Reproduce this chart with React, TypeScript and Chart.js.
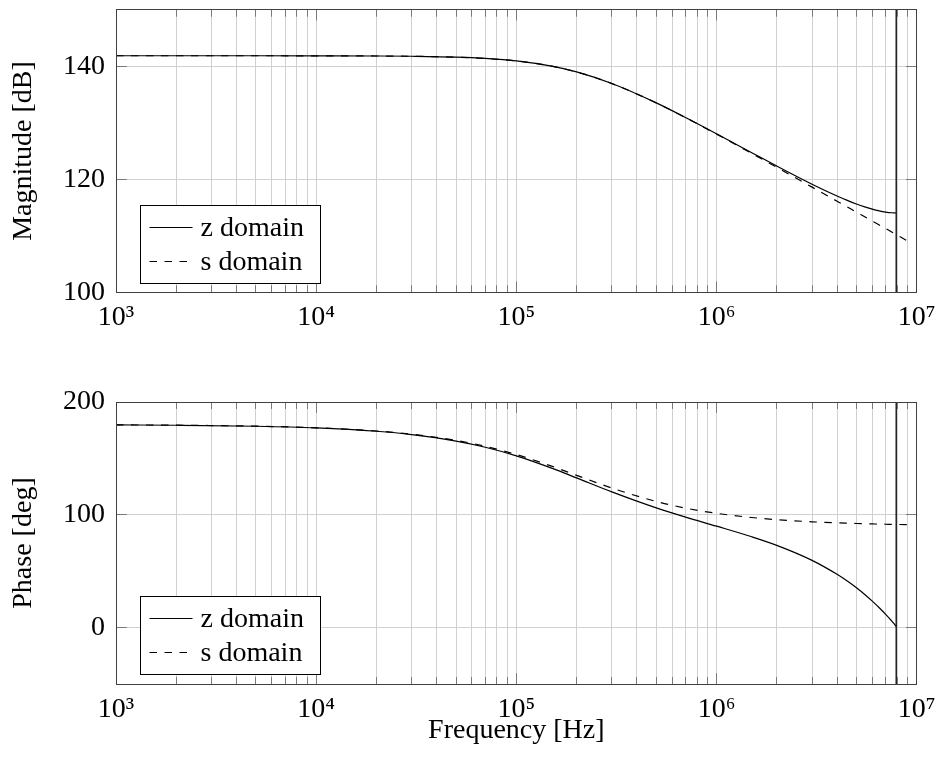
import React, { useEffect, useRef } from 'react';
import { Chart, registerables } from 'chart.js';

Chart.register(...registerables);

const FONT = "'Liberation Serif', 'DejaVu Serif', serif";

// ---- data ----
const FREQ_S = [1e3, 2e3, 5e3, 1e4, 2e4, 3e4, 5e4, 7e4, 1e5, 1.5e5, 2e5, 3e5, 5e5, 7e5, 1e6, 1.5e6, 2e6, 3e6, 4e6, 4.5e6, 5e6, 5.5e6, 6e6, 6.5e6, 7e6, 7.5e6, 8e6, 9e6, 9.4e6];
const MAG_S = [141.85, 141.85, 141.85, 141.84, 141.81, 141.76, 141.61, 141.38, 140.94, 140.01, 138.99, 136.93, 133.51, 130.91, 127.99, 124.57, 122.11, 118.61, 116.12, 115.1, 114.18, 113.36, 112.6, 111.91, 111.27, 110.67, 110.11, 109.08, 108.71];
const PHASE_S = [179.71, 179.43, 178.57, 177.14, 174.29, 171.47, 165.96, 160.71, 153.43, 143.13, 135.0, 123.69, 111.8, 105.95, 101.31, 97.59, 95.71, 93.81, 92.86, 92.55, 92.29, 92.08, 91.91, 91.76, 91.64, 91.53, 91.43, 91.27, 91.22];

const FREQ_Z = [1e3, 2e3, 5e3, 1e4, 2e4, 3e4, 5e4, 7e4, 1e5, 1.5e5, 2e5, 3e5, 5e5, 7e5, 1e6, 1.5e6, 2e6, 3e6, 4e6, 4.5e6, 5e6, 5.5e6, 6e6, 6.5e6, 7e6, 7.5e6, 7.7e6, 7.9e6];
const MAG_Z = [141.85, 141.85, 141.85, 141.84, 141.81, 141.76, 141.61, 141.38, 140.94, 140.01, 138.99, 136.94, 133.52, 130.93, 128.05, 124.7, 122.33, 119.12, 117.03, 116.26, 115.63, 115.12, 114.71, 114.41, 114.2, 114.07, 114.04, 114.03];
const PHASE_Z = [179.7, 179.4, 178.51, 177.02, 174.06, 171.13, 165.39, 159.92, 152.3, 141.42, 132.72, 120.27, 106.1, 97.96, 89.91, 80.5, 72.91, 59.62, 47.25, 41.22, 35.26, 29.33, 23.43, 17.56, 11.7, 5.85, 3.51, 1.0];

const NYQUIST = 7.9e6;

const X_MIN = 1e3;
const X_MAX = 1e7;
const MAG_MIN = 100;
const MAG_MAX = 150;
const MAG_TICKS = [100, 120, 140];
const PHASE_MIN = -50;
const PHASE_MAX = 200;
const PHASE_TICKS = [0, 100, 200];

const LABEL_Z = 'z domain';
const LABEL_S = 's domain';
const MAG_TITLE = 'Magnitude [dB]';
const PHASE_TITLE = 'Phase [deg]';
const X_TITLE = 'Frequency [Hz]';

const SUP: Record<string, string> = { '0': '⁰', '1': '¹', '2': '²', '3': '³', '4': '⁴', '5': '⁵', '6': '⁶', '7': '⁷', '8': '⁸', '9': '⁹' };

function isDecade(v: number) {
  const l = Math.log10(v);
  return Math.abs(l - Math.round(l)) < 1e-9;
}

function gridValues(): number[] {
  const out: number[] = [];
  const e0 = Math.round(Math.log10(X_MIN));
  const e1 = Math.round(Math.log10(X_MAX));
  for (let e = e0; e < e1; e++) for (let m = 1; m < 10; m++) out.push(m * Math.pow(10, e));
  out.push(X_MAX);
  return out;
}

function decadeLabel(v: number) {
  const e = String(Math.round(Math.log10(v)));
  return '10' + e.split('').map((c) => SUP[c]).join('');
}

function alignPx(p: number) {
  return Math.round(p - 0.5) + 0.5;
}

type Cfg = {
  yMin: number; yMax: number; yTicks: number[]; yTitle: string; xTitle?: string;
  padTop: number; xHeight: number; yVals: { z: number[]; s: number[] };
};

function buildChart(canvas: HTMLCanvasElement, cfg: Cfg) {
  const gv = gridValues();
  const titleFont = { family: FONT, size: 28 };

  const framePlugin = {
    id: 'frame',
    beforeDatasetsDraw(chart: any) {
      const { ctx, chartArea: a, scales } = chart;
      ctx.save();
      ctx.strokeStyle = '#7a7a7a';
      ctx.lineWidth = 1;
      ctx.beginPath();
      for (const v of gv) {
        const px = alignPx(scales.x.getPixelForValue(v));
        const len = isDecade(v) ? 10.8 : 7;
        ctx.moveTo(px, a.bottom);
        ctx.lineTo(px, a.bottom - len);
        ctx.moveTo(px, a.top);
        ctx.lineTo(px, a.top + len);
      }
      for (const v of cfg.yTicks) {
        const py = alignPx(scales.y.getPixelForValue(v));
        ctx.moveTo(a.left, py);
        ctx.lineTo(a.left + 10.8, py);
        ctx.moveTo(a.right, py);
        ctx.lineTo(a.right - 10.8, py);
      }
      ctx.stroke();
      ctx.restore();
    },
    afterDatasetsDraw(chart: any) {
      const { ctx, chartArea: a } = chart;
      ctx.save();
      // frame
      const l = alignPx(a.left), r = alignPx(a.right), t = alignPx(a.top), b = alignPx(a.bottom);
      ctx.strokeStyle = '#404040';
      ctx.lineWidth = 1;
      ctx.strokeRect(l, t, r - l, b - t);
      // legend
      const w = 180, h = 78;
      const lx = alignPx(a.left + 24);
      const ly = alignPx(a.bottom - 9.3) - h;
      ctx.fillStyle = '#fff';
      ctx.fillRect(lx, ly, w, h);
      ctx.strokeStyle = '#000';
      ctx.strokeRect(lx, ly, w, h);
      const items = chart.data.datasets.filter((d: any) => d.label);
      items.forEach((d: any, i: number) => {
        const y = ly + 22 + i * 34;
        ctx.setLineDash(d.borderDash || []);
        ctx.strokeStyle = d.borderColor;
        ctx.lineWidth = d.borderWidth;
        ctx.beginPath();
        ctx.moveTo(lx + 9, y);
        ctx.lineTo(lx + 52, y);
        ctx.stroke();
        ctx.setLineDash([]);
        ctx.fillStyle = '#000';
        ctx.font = `28px ${FONT}`;
        ctx.textAlign = 'left';
        ctx.textBaseline = 'alphabetic';
        ctx.fillText(d.label, lx + 60, y + 8);
      });
      ctx.restore();
    },
  };

  const lineBase = { borderColor: '#000', borderWidth: 1.2, pointRadius: 0, fill: false };

  return new Chart(canvas, {
    type: 'line',
    data: {
      datasets: [
        { ...lineBase, label: LABEL_Z, data: FREQ_Z.map((f, i) => ({ x: f, y: cfg.yVals.z[i] })), cubicInterpolationMode: 'monotone' },
        { ...lineBase, label: LABEL_S, borderDash: [7.5, 7.5], data: FREQ_S.map((f, i) => ({ x: f, y: cfg.yVals.s[i] })), cubicInterpolationMode: 'monotone' },
        { ...lineBase, borderWidth: 1.3, data: [{ x: NYQUIST, y: cfg.yMin }, { x: NYQUIST, y: cfg.yMax }] },
      ],
    } as any,
    options: {
      responsive: false,
      animation: false,
      devicePixelRatio: 1,
      layout: { padding: { top: cfg.padTop, right: 21.3, bottom: 0, left: 0 } },
      plugins: { legend: { display: false }, tooltip: { enabled: false } },
      scales: {
        x: {
          type: 'logarithmic',
          min: X_MIN,
          max: X_MAX,
          afterBuildTicks: (s: any) => { s.ticks = gv.map((v) => ({ value: v })); },
          afterFit: (s: any) => { s.height = cfg.xHeight; s.paddingLeft = 0; s.paddingRight = 0; },
          ticks: {
            autoSkip: false, maxRotation: 0, minRotation: 0, padding: 8.4, color: '#000',
            font: titleFont,
            callback: (v: any) => (isDecade(Number(v)) ? decadeLabel(Number(v)) : ''),
          },
          grid: { color: '#d0d0d0', lineWidth: 1, drawTicks: false },
          border: { display: false },
          title: cfg.xTitle
            ? { display: true, text: cfg.xTitle, color: '#000', font: titleFont, padding: { top: 0, bottom: 24 } }
            : { display: false },
        },
        y: {
          type: 'linear',
          min: cfg.yMin,
          max: cfg.yMax,
          afterBuildTicks: (s: any) => { s.ticks = cfg.yTicks.map((v) => ({ value: v })); },
          afterFit: (s: any) => { s.width = 116; s.paddingTop = 0; s.paddingBottom = 0; },
          ticks: { padding: 11, color: '#000', font: titleFont },
          grid: { color: '#d0d0d0', lineWidth: 1, drawTicks: false },
          border: { display: false },
          title: { display: true, text: cfg.yTitle, color: '#000', font: titleFont, padding: { top: 7, bottom: 0 } },
        },
      },
    } as any,
    plugins: [framePlugin],
  });
}

export default function App() {
  const r1 = useRef<HTMLCanvasElement>(null);
  const r2 = useRef<HTMLCanvasElement>(null);

  useEffect(() => {
    const c1 = buildChart(r1.current!, {
      yMin: MAG_MIN, yMax: MAG_MAX, yTicks: MAG_TICKS, yTitle: MAG_TITLE,
      padTop: 9.7, xHeight: 350 - 292.3, yVals: { z: MAG_Z, s: MAG_S },
    });
    const c2 = buildChart(r2.current!, {
      yMin: PHASE_MIN, yMax: PHASE_MAX, yTicks: PHASE_TICKS, yTitle: PHASE_TITLE, xTitle: X_TITLE,
      padTop: 42, xHeight: 411 - 324, yVals: { z: PHASE_Z, s: PHASE_S },
    });
    return () => { c1.destroy(); c2.destroy(); };
  }, []);

  return (
    <div style={{ position: 'absolute', left: 0, top: 0, width: 938, height: 771, background: '#fff' }}>
      <canvas ref={r1} width={938} height={350} style={{ position: 'absolute', left: 0, top: 0, width: 938, height: 350 }} />
      <canvas ref={r2} width={938} height={411} style={{ position: 'absolute', left: 0, top: 360, width: 938, height: 411 }} />
    </div>
  );
}
